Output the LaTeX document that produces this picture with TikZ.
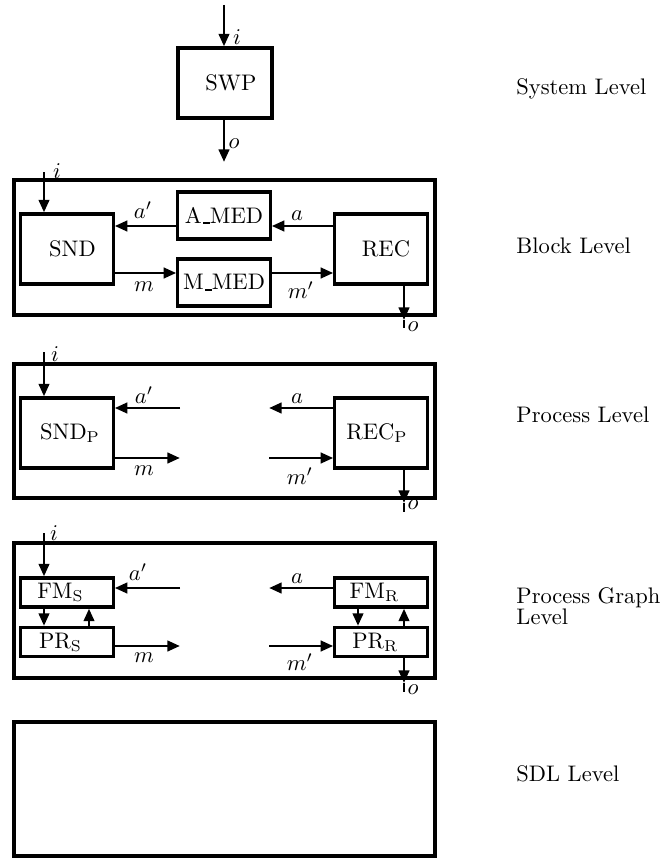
\documentclass[tikz,border=0pt]{standalone}
\usetikzlibrary{arrows.meta}
\newcommand{\usc}{\kern.06em\rule[-0.3pt]{.3em}{0.9pt}}

\begin{document}
\begin{tikzpicture}[x=0.4444pt,y=0.4444pt,yscale=-1,xscale=1,
	frm/.style={line width=1.9pt},
	blk/.style={draw, line width=1.4pt, inner sep=0pt, minimum width=41pt, minimum height=31.1pt},
	sblk/.style={blk, minimum height=20.9pt},
	tblk/.style={blk, minimum height=12.9pt},
	tsh/.style={execute at begin node={\hspace*{#1}}},
	sig/.style={line width=1.3pt, -{Triangle[length=5.6pt,width=4.6pt]}},
	wire/.style={line width=1.3pt},
	lab/.style={inner sep=0.75pt},
	lvl/.style={anchor=west, inner sep=0pt, align=left}]
				\path[use as bounding box] (0,0) rectangle (660,859);

				%Level names
				% Text Node
				\node (lvlSys) [lvl] at (516,89) {System Level};
				% Text Node
				\node (lvlBlk) [lvl] at (516,246) {Block Level};
				% Text Node
				\node (lvlPrc) [lvl] at (516,415) {Process Level};
				% Text Node
				\node (lvlGrf) [lvl] at (516,606) {Process Graph\\[-2.5pt]Level};
				% Text Node
				\node (lvlSdl) [lvl] at (516,774) {SDL Level};

				%System level
				%Shape: Rectangle
				\node (SWP) [blk, minimum width=41.8pt, tsh=5.3pt] at (225,83) {SWP};
				\coordinate (iS) at (224,5);
				\coordinate (oS) at (224,162);
				%Straight Lines
				\draw [sig] (iS) -- (iS |- SWP.north);
				%Straight Lines
				\draw [sig] (SWP.south -| oS) -- (oS);
				% Text Node
				\node (iSl) [lab] at (237,37) {$i$};
				% Text Node
				\node (oSl) [lab] at (234,144) {$o$};

				%Block level
				\draw [frm] (14,180) rectangle (435,315);
				%Shape: Rectangle
				\node (SND) [blk, tsh=4.9pt] at (67,249) {SND};
				%Shape: Rectangle
				\node (AMED) [sblk] at (224,215.5) {A\usc MED};
				%Shape: Rectangle
				\node (MMED) [sblk] at (224,282.5) {M\usc MED};
				%Shape: Rectangle
				\node (REC) [blk, tsh=4.4pt] at (381,249) {REC};
				\coordinate (iB) at (44,172);
				\coordinate (yAB) at (0,226);
				\coordinate (yMB) at (0,273);
				\coordinate (oBt) at (404,320);
				\coordinate (oBe) at (404,328);
				%Straight Lines
				\draw [sig] (iB) -- (iB |- SND.north);
				\draw [sig] (REC.west |- yAB) -- (AMED.east |- yAB);
				\draw [sig] (AMED.west |- yAB) -- (SND.east |- yAB);
				\draw [sig] (SND.east |- yMB) -- (MMED.west |- yMB);
				\draw [sig] (MMED.east |- yMB) -- (REC.west |- yMB);
				\draw [sig] (REC.south -| oBt) -- (oBt);
				\draw [wire] (oBt) -- (oBe);
				% Text Node
				\node (iBl) [lab] at (57,171) {$i$};
				\node (aBl) [lab] at (143,210) {$a'$};
				\node (aBr) [lab] at (297,216) {$a$};
				\node (mBl) [lab] at (144,287) {$m$};
				\node (mBr) [lab] at (301,290) {$m'$};
				\node (oBl) [lab] at (413,327) {$o$};

				%Process level
				\draw [frm] (14,364) rectangle (435,498);
				%Shape: Rectangle
				\node (SNDP) [blk, tsh=2.7pt] at (67,433) {SND$_{\mathrm{P}}$};
				%Shape: Rectangle
				\node (RECP) [blk, tsh=-3.6pt] at (381,433) {REC$_{\mathrm{P}}$};
				\coordinate (iP) at (44,352);
				\coordinate (aPl) at (180,408);
				\coordinate (aPr) at (269,408);
				\coordinate (mPl) at (180,458);
				\coordinate (mPr) at (269,458);
				\coordinate (oPt) at (404,503);
				\coordinate (oPe) at (404,512);
				%Straight Lines
				\draw [sig] (iP) -- (iP |- SNDP.north);
				\draw [sig] (aPl) -- (SNDP.east |- aPl);
				\draw [sig] (RECP.west |- aPr) -- (aPr);
				\draw [sig] (SNDP.east |- mPl) -- (mPl);
				\draw [sig] (mPr) -- (RECP.west |- mPr);
				\draw [sig] (RECP.south -| oPt) -- (oPt);
				\draw [wire] (oPt) -- (oPe);
				% Text Node
				\node (iPl) [lab] at (55,354) {$i$};
				\node (aPll) [lab] at (144,395) {$a'$};
				\node (aPrl) [lab] at (297,399) {$a$};
				\node (mPll) [lab] at (144,471) {$m$};
				\node (mPrl) [lab] at (300,476) {$m'$};
				\node (oPl) [lab] at (413,505) {$o$};

				%Process graph level
				\draw [frm] (14,543) rectangle (435,678);
				%Shape: Rectangle
				\node (FMS) [tblk, tsh=-5.8pt] at (67,592.5) {FM$_{\mathrm{S}}$};
				\node (PRS) [tblk, tsh=-5.8pt] at (67,642) {PR$_{\mathrm{S}}$};
				\node (FMR) [tblk, tsh=-5.8pt] at (381,592.5) {FM$_{\mathrm{R}}$};
				\node (PRR) [tblk, tsh=-5pt] at (381,642) {PR$_{\mathrm{R}}$};
				\coordinate (iG) at (44,533);
				\coordinate (xL1) at (44,0);
				\coordinate (xL2) at (89,0);
				\coordinate (xR1) at (358,0);
				\coordinate (xR2) at (404,0);
				\coordinate (aGl) at (180,588);
				\coordinate (aGr) at (269,588);
				\coordinate (mGl) at (180,646);
				\coordinate (mGr) at (269,646);
				\coordinate (oGt) at (404,683);
				\coordinate (oGe) at (404,692);
				%Straight Lines
				\draw [sig] (iG) -- (iG |- FMS.north);
				\draw [sig] (FMS.south -| xL1) -- (PRS.north -| xL1);
				\draw [sig] (PRS.north -| xL2) -- (FMS.south -| xL2);
				\draw [sig] (FMR.south -| xR1) -- (PRR.north -| xR1);
				\draw [sig] (PRR.north -| xR2) -- (FMR.south -| xR2);
				\draw [sig] (aGl) -- (FMS.east |- aGl);
				\draw [sig] (FMR.west |- aGr) -- (aGr);
				\draw [sig] (PRS.east |- mGl) -- (mGl);
				\draw [sig] (mGr) -- (PRR.west |- mGr);
				\draw [sig] (PRR.south -| oGt) -- (oGt);
				\draw [wire] (oGt) -- (oGe);
				% Text Node
				\node (iGl) [lab] at (54,533) {$i$};
				\node (aGll) [lab] at (138,572) {$a'$};
				\node (aGrl) [lab] at (297,579) {$a$};
				\node (mGll) [lab] at (144,658) {$m$};
				\node (mGrl) [lab] at (300,662) {$m'$};
				\node (oGl) [lab] at (413,690) {$o$};

				%SDL level
				\draw [frm] (14,722) rectangle (435,856);

\end{tikzpicture}
\end{document}
